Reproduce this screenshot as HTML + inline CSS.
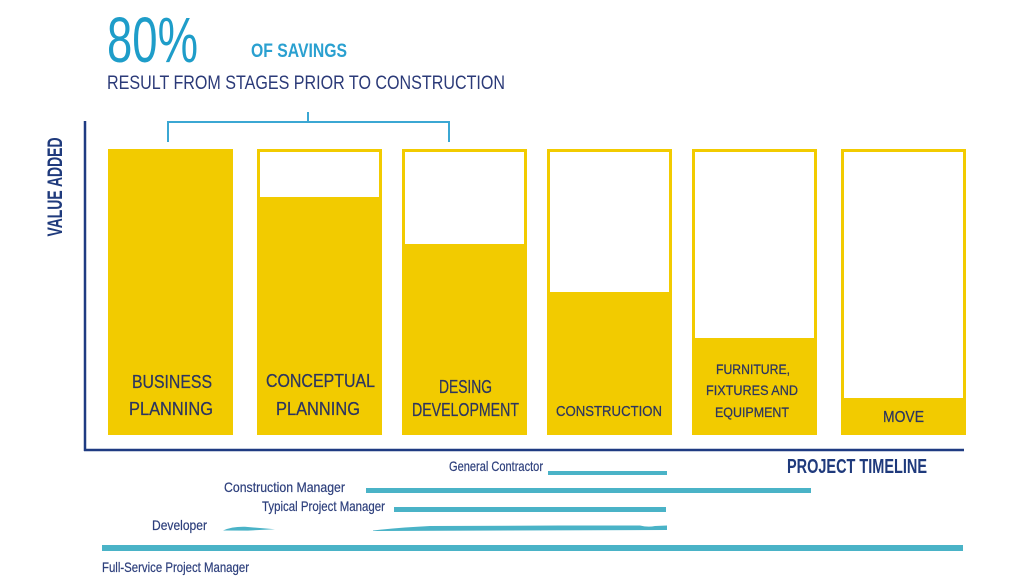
<!DOCTYPE html>
<html>
<head>
<meta charset="utf-8">
<style>
  html, body { margin: 0; padding: 0; background: #ffffff; }
  body { width: 1024px; height: 580px; overflow: hidden; }
  svg { display: block; }
  text { font-family: "Liberation Sans", "DejaVu Sans", sans-serif; }
</style>
</head>
<body>
<svg width="1024" height="580" viewBox="0 0 1024 580" xmlns="http://www.w3.org/2000/svg">
  <rect x="0" y="0" width="1024" height="580" fill="#ffffff"/>

  <!-- Header -->
  <text x="107" y="62" font-size="64" fill="#1e9dc9" textLength="91" lengthAdjust="spacingAndGlyphs">80%</text>
  <text x="251" y="57" font-size="19" font-weight="bold" fill="#2aa0d0" textLength="96" lengthAdjust="spacingAndGlyphs">OF SAVINGS</text>
  <text x="107" y="89" font-size="19" fill="#2b3a78" textLength="398" lengthAdjust="spacingAndGlyphs">RESULT FROM STAGES PRIOR TO CONSTRUCTION</text>

  <!-- Bracket -->
  <path d="M308,112 V122 M168,142 V122 H449 V142" fill="none" stroke="#3ba7d3" stroke-width="2"/>

  <!-- Axes -->
  <line x1="85" y1="121" x2="85" y2="451" stroke="#1f3b82" stroke-width="2.5"/>
  <line x1="84" y1="450" x2="964" y2="450" stroke="#1f3b82" stroke-width="2.5"/>

  <!-- Value added label -->
  <g transform="translate(62,187) rotate(-90)">
    <text x="0" y="0" font-size="21" font-weight="bold" fill="#1f3a7c" text-anchor="middle" textLength="99" lengthAdjust="spacingAndGlyphs">VALUE ADDED</text>
  </g>

  <!-- Bars -->
  <g fill="#f2cb00">
    <rect x="108" y="149" width="125" height="286"/>
    <rect x="257" y="197" width="125" height="238"/>
    <rect x="402" y="244" width="125" height="191"/>
    <rect x="547" y="292" width="125" height="143"/>
    <rect x="692" y="338" width="125" height="97"/>
    <rect x="841" y="398" width="125" height="37"/>
  </g>
  <g fill="none" stroke="#f2cb00" stroke-width="3">
    <rect x="258.5" y="150.5" width="122" height="283"/>
    <rect x="403.5" y="150.5" width="122" height="283"/>
    <rect x="548.5" y="150.5" width="122" height="283"/>
    <rect x="693.5" y="150.5" width="122" height="283"/>
    <rect x="842.5" y="150.5" width="122" height="283"/>
  </g>

  <!-- Bar labels -->
  <g fill="#2c3560" stroke="#2c3560" stroke-width="0.25">
    <text x="132" y="388" font-size="18" textLength="80" lengthAdjust="spacingAndGlyphs">BUSINESS</text>
    <text x="129" y="415" font-size="18" textLength="84" lengthAdjust="spacingAndGlyphs">PLANNING</text>

    <text x="266" y="387" font-size="18" textLength="109" lengthAdjust="spacingAndGlyphs">CONCEPTUAL</text>
    <text x="276" y="415" font-size="18" textLength="84" lengthAdjust="spacingAndGlyphs">PLANNING</text>

    <text x="439" y="393" font-size="18" textLength="53" lengthAdjust="spacingAndGlyphs">DESING</text>
    <text x="412" y="416" font-size="18" textLength="107" lengthAdjust="spacingAndGlyphs">DEVELOPMENT</text>

    <text x="556" y="416" font-size="15" textLength="106" lengthAdjust="spacingAndGlyphs">CONSTRUCTION</text>

    <text x="716" y="374" font-size="14" textLength="74" lengthAdjust="spacingAndGlyphs">FURNITURE,</text>
    <text x="706" y="395" font-size="14" textLength="92" lengthAdjust="spacingAndGlyphs">FIXTURES AND</text>
    <text x="715" y="417" font-size="14" textLength="74" lengthAdjust="spacingAndGlyphs">EQUIPMENT</text>

    <text x="883" y="422" font-size="16" textLength="41" lengthAdjust="spacingAndGlyphs">MOVE</text>
  </g>

  <!-- Project timeline -->
  <text x="787" y="473" font-size="20" font-weight="bold" fill="#1f3a7c" textLength="140" lengthAdjust="spacingAndGlyphs">PROJECT TIMELINE</text>

  <!-- Timeline lines -->
  <g fill="#4ab3c7">
    <rect x="548" y="471" width="119" height="4"/>
    <rect x="366" y="488" width="445" height="5"/>
    <rect x="394" y="507" width="272" height="5"/>
    <path d="M223,530.5 Q232,526.5 245,526.8 L275,529.2 L248,530.6 Z"/>
    <path d="M373,530.5 Q400,527.5 430,526 L560,525.5 L640,525.5 Q648,527.5 655,526 L667,525.5 L667,530 L373,531 Z"/>
    <rect x="102" y="545" width="861" height="6"/>
  </g>

  <!-- Timeline labels -->
  <g fill="#2d3f7c" stroke="#2d3f7c" stroke-width="0.2" font-size="14">
    <text x="449" y="471" textLength="94" lengthAdjust="spacingAndGlyphs">General Contractor</text>
    <text x="224" y="492" textLength="121" lengthAdjust="spacingAndGlyphs">Construction Manager</text>
    <text x="262" y="511" textLength="123" lengthAdjust="spacingAndGlyphs">Typical Project Manager</text>
    <text x="152" y="530" textLength="55" lengthAdjust="spacingAndGlyphs">Developer</text>
    <text x="102" y="572" textLength="147" lengthAdjust="spacingAndGlyphs">Full-Service Project Manager</text>
  </g>
</svg>
</body>
</html>
